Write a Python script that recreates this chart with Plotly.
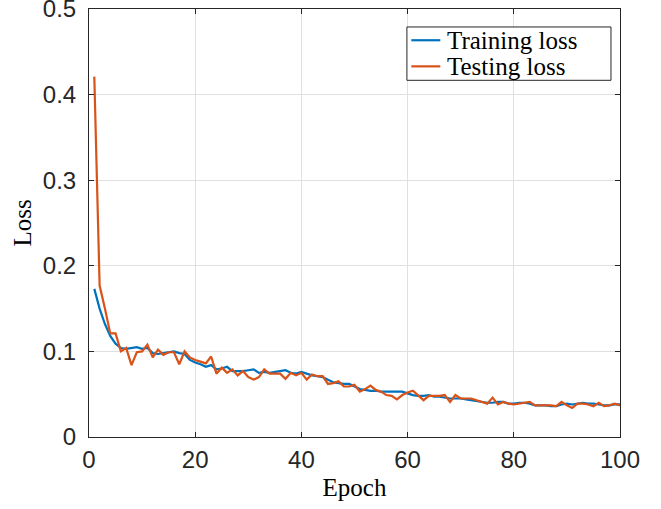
import plotly.graph_objects as go

epochs = list(range(1, 101))

train_loss = [
    0.173, 0.150, 0.132, 0.118, 0.109, 0.104, 0.103, 0.104, 0.105, 0.103,
    0.104, 0.098, 0.097, 0.098, 0.099, 0.100, 0.098, 0.097, 0.090, 0.087,
    0.085, 0.082, 0.084, 0.079, 0.080, 0.082, 0.077, 0.077, 0.077, 0.078,
    0.079, 0.075, 0.076, 0.075, 0.076, 0.077, 0.078, 0.075, 0.074, 0.076,
    0.074, 0.072, 0.071, 0.070, 0.067, 0.064, 0.063, 0.062, 0.062, 0.059,
    0.056, 0.055, 0.054, 0.054, 0.053, 0.053, 0.053, 0.053, 0.053, 0.051,
    0.049, 0.048, 0.048, 0.049, 0.047, 0.047, 0.046, 0.045, 0.045, 0.045,
    0.044, 0.043, 0.042, 0.041, 0.040, 0.040, 0.041, 0.041, 0.039, 0.039,
    0.040, 0.040, 0.039, 0.037, 0.037, 0.037, 0.036, 0.036, 0.038, 0.039,
    0.038, 0.039, 0.040, 0.039, 0.039, 0.038, 0.037, 0.037, 0.038, 0.038,
]

test_loss = [
    0.421, 0.177, 0.150, 0.121, 0.121, 0.100, 0.104, 0.084, 0.099, 0.100,
    0.108, 0.093, 0.102, 0.096, 0.099, 0.099, 0.085, 0.100, 0.093, 0.090,
    0.088, 0.086, 0.094, 0.074, 0.081, 0.075, 0.079, 0.072, 0.077, 0.070,
    0.067, 0.070, 0.079, 0.074, 0.074, 0.074, 0.068, 0.075, 0.072, 0.075,
    0.067, 0.073, 0.071, 0.071, 0.062, 0.063, 0.065, 0.059, 0.059, 0.061,
    0.053, 0.056, 0.060, 0.055, 0.053, 0.049, 0.048, 0.044, 0.049, 0.052,
    0.054, 0.049, 0.043, 0.048, 0.048, 0.048, 0.049, 0.041, 0.049, 0.045,
    0.045, 0.045, 0.043, 0.041, 0.039, 0.046, 0.038, 0.041, 0.039, 0.038,
    0.039, 0.040, 0.041, 0.037, 0.037, 0.037, 0.037, 0.036, 0.041, 0.037,
    0.034, 0.039, 0.039, 0.038, 0.036, 0.040, 0.036, 0.037, 0.039, 0.037,
]

x_ticks = [0, 20, 40, 60, 80, 100]
x_tick_labels = ["0", "20", "40", "60", "80", "100"]
y_ticks = [0, 0.1, 0.2, 0.3, 0.4, 0.5]
y_tick_labels = ["0", "0.1", "0.2", "0.3", "0.4", "0.5"]

series_names = ["Training loss", "Testing loss"]
series_colors = ["#0072BD", "#D95319"]

fig = go.Figure()
for name, vals, col in zip(series_names, [train_loss, test_loss], series_colors):
    fig.add_trace(go.Scatter(x=epochs, y=vals, mode="lines", name=name,
                             line=dict(color=col, width=2.2), showlegend=False))

axis_common = dict(
    showline=True, linecolor="#262626", linewidth=1, mirror="ticks",
    ticks="inside", ticklen=5, tickwidth=1, tickcolor="#262626",
    showgrid=True, gridcolor="#e0e0e0", gridwidth=1, zeroline=False,
    ticklabeloverflow="allow", automargin=False,
    tickfont=dict(family="Liberation Sans, Arial, sans-serif", size=24, color="#262626"),
)

serif = "Liberation Serif, Times New Roman, serif"

# Legend drawn in MATLAB style (compact rows) with paper-coordinate shapes/text
leg_x0, leg_x1 = 0.5987, 0.983
leg_y0, leg_y1 = 0.8334, 0.958
row_y = [0.927, 0.866]
line_x0, line_x1 = 0.607, 0.6616
text_x = 0.6700

shapes = [dict(type="rect", xref="paper", yref="paper", x0=leg_x0, x1=leg_x1,
               y0=leg_y0, y1=leg_y1, line=dict(color="#262626", width=1),
               fillcolor="white", layer="above")]
annotations = []
for name, col, ry in zip(series_names, series_colors, row_y):
    shapes.append(dict(type="line", xref="paper", yref="paper", x0=line_x0, x1=line_x1,
                       y0=ry, y1=ry, line=dict(color=col, width=2.2), layer="above"))
    annotations.append(dict(text=name, xref="paper", yref="paper", x=text_x, y=ry,
                            xanchor="left", yanchor="middle", showarrow=False,
                            font=dict(family=serif, size=25, color="#000000")))

fig.update_layout(
    width=661, height=509,
    margin=dict(l=89, r=41, t=9, b=72),
    paper_bgcolor="white", plot_bgcolor="white",
    xaxis=dict(range=[0, 100], tickvals=x_ticks, ticktext=x_tick_labels,
               ticklabelstandoff=1,
               title=dict(text="Epoch", standoff=6,
                          font=dict(family=serif, size=25, color="#000000")),
               **axis_common),
    yaxis=dict(range=[0, 0.5], tickvals=y_ticks, ticktext=y_tick_labels,
               ticklabelstandoff=7,
               title=dict(text="Loss", standoff=4,
                          font=dict(family=serif, size=25, color="#000000")),
               **axis_common),
    shapes=shapes,
    annotations=annotations,
    showlegend=False,
)

fig.write_html("out.html")
